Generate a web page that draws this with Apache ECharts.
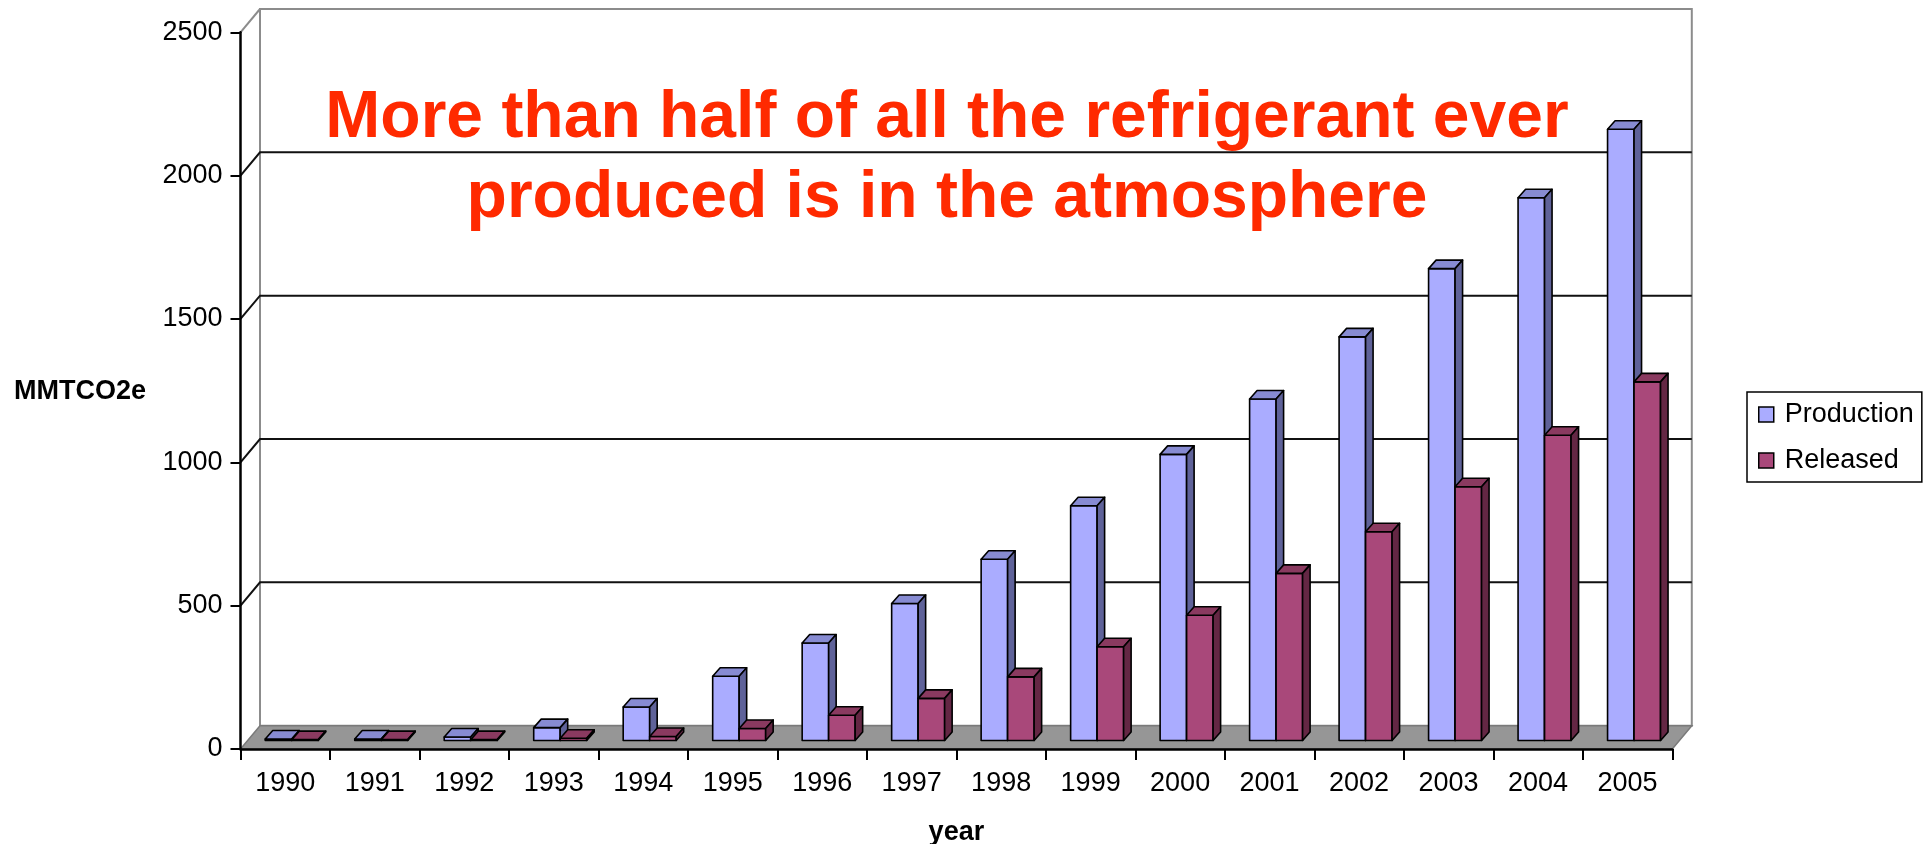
<!DOCTYPE html>
<html>
<head>
<meta charset="utf-8">
<script src="https://cdn.jsdelivr.net/npm/echarts@6/dist/echarts.min.js"></script>
<style>
  html, body { margin: 0; padding: 0; background: #fff; }
  #chart { width: 1923px; height: 844px; }
</style>
</head>
<body>
<div id="chart"></div>
<script>
const years = ['1990', '1991', '1992', '1993', '1994', '1995', '1996', '1997',
               '1998', '1999', '2000', '2001', '2002', '2003', '2004', '2005'];
const production = [5, 5, 12, 45, 117, 224, 340, 478, 632, 819, 998, 1191, 1408, 1646, 1893, 2132];
const released = [3, 3, 3, 8, 14, 42, 88, 147, 222, 327, 437, 583, 728, 885, 1065, 1251];
const yTicks = [0, 500, 1000, 1500, 2000, 2500];

const FONT = '"Liberation Sans", Arial, sans-serif';
// oblique depth of the floor / walls, and of one bar
const DEPTH = [19.5, -23.3];
const BAR_DEPTH = [7.5, -8.5];
const BAR_LIFT = 8.5;

const chart = echarts.init(document.getElementById('chart'));

function drawBar(params, api, leftOffset, colors) {
    const idx = api.value(0);
    const v = api.value(1);
    const base = api.coord([idx, 0]);
    const top = api.coord([idx, v]);
    const band = api.size([1, 0])[0];
    const w = band * 0.296;
    const xl = base[0] + leftOffset * band;
    const yb = base[1] - BAR_LIFT;
    const yt = top[1] - BAR_LIFT;
    const dx = BAR_DEPTH[0], dy = BAR_DEPTH[1];
    const stroke = { stroke: '#000', lineWidth: 1.6, lineJoin: 'round' };
    return {
        type: 'group',
        children: [
            {
                type: 'polygon',
                shape: { points: [[xl, yt], [xl + w, yt], [xl + w, yb], [xl, yb]] },
                style: Object.assign({ fill: colors[0] }, stroke)
            },
            {
                type: 'polygon',
                shape: { points: [[xl, yt], [xl + w, yt], [xl + w + dx, yt + dy], [xl + dx, yt + dy]] },
                style: Object.assign({ fill: colors[1] }, stroke)
            },
            {
                type: 'polygon',
                shape: { points: [[xl + w, yt], [xl + w, yb], [xl + w + dx, yb + dy], [xl + w + dx, yt + dy]] },
                style: Object.assign({ fill: colors[2] }, stroke)
            }
        ]
    };
}

function drawWalls(params, api) {
    const cs = params.coordSys;
    const gx = cs.x, gw = cs.width;
    const dx = DEPTH[0], dy = DEPTH[1];
    const y0 = api.coord([0, 0])[1];
    const yTop = api.coord([0, yTicks[yTicks.length - 1]])[1];
    const children = [];
    // back wall
    children.push({
        type: 'polygon',
        shape: { points: [[gx + dx, yTop + dy], [gx + gw + dx, yTop + dy], [gx + gw + dx, y0 + dy], [gx + dx, y0 + dy]] },
        style: { fill: '#fff', stroke: '#8c8c8c', lineWidth: 2 }
    });
    // left wall edge
    children.push({
        type: 'polyline',
        shape: { points: [[gx, yTop], [gx + dx, yTop + dy]] },
        style: { stroke: '#8c8c8c', lineWidth: 2, fill: null }
    });
    // floor
    children.push({
        type: 'polygon',
        shape: { points: [[gx, y0], [gx + gw, y0], [gx + gw + dx, y0 + dy], [gx + dx, y0 + dy]] },
        style: { fill: '#969696', stroke: '#7a7a7a', lineWidth: 1.5 }
    });
    // gridlines on side + back wall
    yTicks.forEach(function (t) {
        if (t === 0 || t === yTicks[yTicks.length - 1]) return;
        const y = api.coord([0, t])[1];
        children.push({
            type: 'polyline',
            shape: { points: [[gx, y], [gx + dx, y + dy], [gx + gw + dx, y + dy]] },
            style: { stroke: '#111', lineWidth: 2, fill: null }
        });
    });
    return { type: 'group', children: children };
}

const option = {
    backgroundColor: '#fff',
    animation: false,
    textStyle: { fontFamily: FONT },
    grid: {
        left: 240.5,
        right: 250.7,
        top: 32.3,
        bottom: 95,
        outerBoundsMode: 'none',
        containLabel: false
    },
    graphic: [
        {
            type: 'text', x: 947, y: 119, z: 100,
            style: {
                text: 'More than half of all the refrigerant ever',
                font: 'bold 66px ' + FONT, fill: '#ff2a00',
                align: 'center', verticalAlign: 'middle'
            }
        },
        {
            type: 'text', x: 947, y: 199, z: 100,
            style: {
                text: 'produced is in the atmosphere',
                font: 'bold 66px ' + FONT, fill: '#ff2a00',
                align: 'center', verticalAlign: 'middle'
            }
        },
        {
            type: 'text', x: 80, y: 392, z: 100,
            style: {
                text: 'MMTCO2e',
                font: 'bold 27px ' + FONT, fill: '#000',
                align: 'center', verticalAlign: 'middle'
            }
        }
    ],
    legend: {
        orient: 'vertical',
        left: 1747,
        top: 392,
        backgroundColor: '#fff',
        borderColor: '#000',
        borderWidth: 1.5,
        padding: [9, 8, 8, 11],
        itemGap: 19,
        itemWidth: 15,
        itemHeight: 15,
        icon: 'rect',
        itemStyle: { borderColor: '#000', borderWidth: 1.5 },
        textStyle: { fontSize: 27, color: '#000', fontFamily: FONT, padding: [0, 0, 0, 6] },
        data: ['Production', 'Released']
    },
    xAxis: {
        type: 'category',
        data: years,
        z: 10,
        name: 'year',
        nameLocation: 'middle',
        nameGap: 70,
        nameTextStyle: { fontSize: 27, fontWeight: 'bold', color: '#000', fontFamily: FONT },
        axisLine: { lineStyle: { color: '#000', width: 2.5 } },
        axisTick: { show: true, length: 11, lineStyle: { color: '#000', width: 2 } },
        axisLabel: { fontSize: 27, color: '#000', margin: 21, fontFamily: FONT, interval: 0 },
        splitLine: { show: false }
    },
    yAxis: {
        type: 'value',
        min: 0,
        max: 2500,
        interval: 500,
        z: 10,
        axisLine: { show: true, lineStyle: { color: '#000', width: 2.5 } },
        axisTick: { show: true, length: 10, lineStyle: { color: '#000', width: 2 } },
        axisLabel: {
            fontSize: 27, color: '#000', margin: 18, fontFamily: FONT,
            formatter: function (v) { return String(v); }
        },
        splitLine: { show: false }
    },
    series: [
        {
            type: 'custom',
            name: 'walls',
            silent: true,
            clip: false,
            z: 1,
            renderItem: drawWalls,
            data: [[0, 0]]
        },
        {
            type: 'custom',
            name: 'Production',
            clip: false,
            z: 3,
            itemStyle: { color: '#aaacff' },
            renderItem: function (params, api) {
                return drawBar(params, api, -0.2235, ['#aaacff', '#878bd2', '#5f6299']);
            },
            data: years.map((y, i) => [i, production[i]])
        },
        {
            type: 'custom',
            name: 'Released',
            clip: false,
            z: 3,
            itemStyle: { color: '#a9487a' },
            renderItem: function (params, api) {
                return drawBar(params, api, 0.0726, ['#a9487a', '#8a3a60', '#642744']);
            },
            data: years.map((y, i) => [i, released[i]])
        }
    ]
};

chart.setOption(option);
</script>
</body>
</html>
